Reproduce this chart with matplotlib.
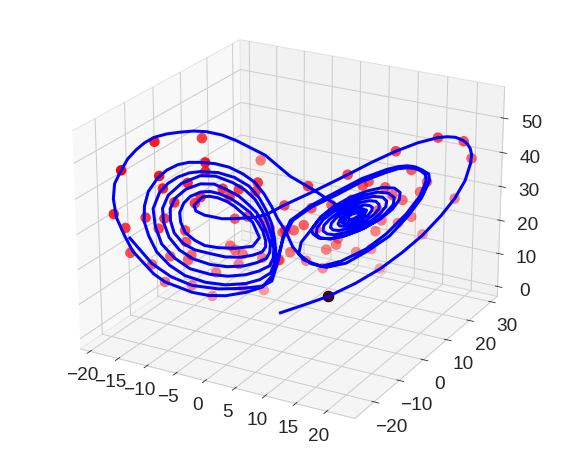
import matplotlib
matplotlib.use("Agg")
import matplotlib.pyplot as plt

# Values as (x, z). The view gives two coordinates per point; y is estimated from x.
start_arc = [(0.2,-1.0),(3.1,1.0),(6.0,3.1),(9.3,6.6),(12.3,10.6),(14.9,15.1),(17.3,19.9),(19.5,25.5),(21.1,30.4),(22.3,35.6),(22.9,40.6),(23.0,43.2),(22.8,45.1),(22.4,46.6),(21.9,47.6),(21.0,48.6),(20.0,48.9),(18.9,48.8),(16.5,47.6),(13.9,45.5),(11.1,42.7),(8.2,39.4),(4.5,35.4),(0.6,31.4),(-1.6,28.7),(-3.4,27.4),(-5.8,27.4),(-7.3,27.6),(-9.4,29.0),(-10.4,30.4),(-10.6,32.1),(-9.6,34.4),(-8.8,34.5),(-7.8,33.9),(-6.7,32.6),(-5.8,31.0),(-3.7,26.0),(-2.8,21.4)]
left_ring_1 = [(-3.7,18.8),(-5.8,18.5),(-7.8,19.0),(-9.4,19.9),(-10.6,21.7),(-11.7,24.2),(-12.2,27.3),(-12.3,30.2),(-11.8,32.9),(-11.0,34.8),(-9.8,35.9),(-8.7,35.9),(-7.6,35.1),(-6.3,33.5),(-5.2,31.5),(-4.0,29.0),(-3.1,26.2),(-2.3,23.5),(-1.9,20.7),(-1.9,18.8)]
left_ring_2 = [(-2.4,17.2),(-3.7,16.1),(-5.2,15.7),(-7.0,16.1),(-8.8,17.4),(-10.6,18.8),(-12.0,21.0),(-13.0,24.3),(-13.4,28.0),(-13.4,31.5),(-12.8,34.5),(-11.5,37.0),(-9.8,38.3),(-8.2,38.0),(-6.7,36.1),(-5.3,34.0),(-4.2,31.4),(-3.2,28.9),(-2.4,26.1),(-1.7,23.0),(-1.2,19.7),(-1.3,17.2)]
left_ring_3 = [(-1.8,15.3),(-3.2,13.8),(-4.8,13.0),(-6.8,13.1),(-8.8,14.1),(-10.8,16.1),(-12.4,19.0),(-13.6,23.0),(-14.2,27.5),(-14.3,31.7),(-13.6,35.5),(-12.0,38.8),(-9.8,40.7),(-8.0,40.3),(-6.0,38.1),(-4.6,35.8),(-3.4,32.8),(-2.4,29.6),(-1.6,26.0),(-1.0,22.0),(-0.7,18.2),(-0.8,15.6)]
left_ring_4 = [(-1.3,13.2),(-2.9,11.3),(-4.6,10.3),(-6.7,10.2),(-8.8,11.1),(-11.2,13.2),(-13.0,16.7),(-14.5,21.2),(-15.2,26.7),(-15.4,31.8),(-14.6,36.5),(-13.6,39.0),(-12.4,40.7),(-11.1,41.7),(-9.8,41.9),(-7.7,41.3),(-5.8,39.6),(-4.1,36.8),(-2.8,33.3),(-1.8,29.8),(-1.0,25.9),(-0.6,21.6),(-0.4,17.5),(-0.6,14.0)]
left_ring_5 = [(-1.2,11.0),(-2.8,8.7),(-4.6,7.6),(-7.0,7.6),(-9.4,8.8),(-11.8,11.2),(-13.6,14.6),(-15.1,18.9),(-16.0,23.9),(-16.5,28.4),(-16.4,32.8),(-15.9,37.0),(-14.8,40.7),(-13.7,42.9),(-12.4,44.3),(-11.1,44.8),(-9.8,44.6),(-8.1,44.0),(-6.4,42.7),(-4.8,40.5),(-3.4,37.8),(-2.1,34.6),(-1.0,31.0),(-0.1,27.4),(0.8,23.9),(1.7,18.8),(3.0,14.7),(5.1,12.4)]
right_lap_1 = [(7.5,13.6),(10.5,16.8),(12.9,21.0),(15.3,26.7),(16.9,31.8),(17.6,36.2),(17.5,38.1),(16.9,39.3),(16.2,40.1),(15.3,40.4),(14.2,40.3),(12.9,39.5),(9.9,37.1),(6.9,33.6),(3.9,30.4),(1.7,26.8),(0.6,21.9),(-0.1,16.0),(-1.0,10.1),(-2.4,6.5),(-4.6,4.9),(-7.0,4.3),(-9.0,4.7),(-11.0,6.0),(-14.2,9.7),(-15.5,12.3),(-16.6,15.6),(-17.9,19.5),(-18.8,24.2),(-19.7,29.8),(-20.0,35.4),(-19.8,39.8),(-19.0,43.6),(-18.2,46.8),(-17.2,49.3),(-16.2,51.2),(-15.1,52.6),(-13.6,53.4),(-12.0,53.7),(-10.5,53.8),(-9.0,53.4),(-7.2,52.2),(-5.5,50.3),(-1.9,46.0),(1.4,39.9),(4.2,35.4),(6.9,30.6),(8.1,27.8)]
spiral_inner = [(8.4,26.2),(8.6,26.0),(9.0,26.2),(9.5,26.9),(9.7,27.6),(9.4,27.9),(8.8,27.6),(8.1,26.7),
 (7.9,25.8),(8.3,25.4),(9.1,25.8),(9.8,26.9),(10.1,28.0),(9.6,28.5),(8.7,28.0),(7.8,26.7),
 (7.5,25.3),(8.0,24.8),(9.2,25.4),(10.2,27.0),(10.5,28.5),(9.9,29.1),(8.6,28.4),(7.4,26.6)]
spiral_mid = [(7.1,24.9),(7.3,24.3),(7.8,24.1),(8.4,24.3),(9.2,25.0),(10.0,25.9),(10.7,27.0),(11.1,28.2),(11.2,29.2),(10.9,29.8),(10.3,30.1),(9.5,29.8),(8.5,29.0),(7.5,27.9),(6.8,26.6),(6.3,25.2),
 (6.2,24.0),(6.5,23.2),(7.2,22.9),(8.2,23.3),(9.4,24.2),(10.5,25.5),(11.4,27.1),(12.0,28.7),(12.0,30.0),(11.6,31.0),(10.8,31.3),(9.7,30.9),(8.3,29.8),(7.1,28.3),(6.1,26.5),(5.4,24.7)]
spiral_outer = [(5.3,23.1),(5.8,22.1),(6.7,21.7),(8.0,22.2),(9.5,23.4),(11.0,25.1),(12.1,27.2),(12.8,29.2),(12.9,30.9),(12.4,32.1),(11.3,32.5),(9.9,32.0),(8.2,30.6),(6.6,28.7),(5.3,26.4),(4.6,24.1),
 (4.5,22.2),(5.0,21.0),(6.2,20.5),(7.8,21.1),(9.7,22.6),(11.4,24.7),(12.8,27.2),(13.7,29.7),(13.8,31.8),(13.1,33.2),(11.8,33.7),(10.1,33.0),(8.1,31.4),(6.2,29.1),(4.7,26.3),(3.9,23.7),
 (4.1,22.4),(4.8,21.0),(6.2,20.6),(8.1,21.4),(10.2,23.1),(12.1,25.5),(13.6,28.3),(14.4,31.0),(14.5,33.2),(13.8,34.6),(12.4,35.0),(10.5,34.2),(8.4,32.5),(6.5,30.1),(5.0,27.3),(4.2,24.6)]
tail_arc = [(2.7,20.1),(2.4,16.6),(3.9,13.4),(5.7,12.0),(8.1,12.9),(10.7,16.2),(13.3,20.3),(15.5,26.0),(17.1,31.2),(18.0,36.1),(17.9,38.2),(17.1,39.5),(16.3,40.5),(15.3,41.0),(14.2,40.9),(12.9,40.3),(9.9,38.0),(6.9,34.5),(3.9,31.0),(1.4,26.8),(0.5,21.9),(0.0,15.4),(-1.0,8.6),(-2.4,6.8),(-4.9,6.2),(-7.8,6.5),(-11.0,8.1),(-13.5,11.2),(-15.7,15.5),(-18.2,23.5)]

dots_x = [6.0,-16.4,-11.5,-5.2,-19.0,-20.0,-18.7,-18.2,-15.7,-14.2,-11.0,-8.6,-4.9,-2.2,-9.2,-9.2,-14.6,-14.2,-11.3,-9.8,-10.5,-12.9,-16.3,-14.1,-14.8,-11.7,-11.6,-11.0,-13.5,-11.4,-8.1,-5.4,-4.9,-6.4,-5.8,-2.4,-0.7,0.0,-5.8,-3.0,-3.3,-5.3,-7.2,-6.4,-4.3,-2.2,-1.3,0.5,0.7,3.9,3.5,8.2,13.9,18.9,22.0,23.0,21.1,17.3,12.2,15.8,17.7,16.9,10.7,10.0,12.7,13.6,14.8,15.9,14.3,12.3,11.6,11.1,9.3,7.1,5.7,6.9,3.3,5.3,1.4,0.1,0.8,1.8,3.0,4.5,6.3,8.7,11.9]
dots_y = [6.0,-12.4,-5.5,2.8,-19.0,-20.0,-18.7,-18.2,-15.7,-14.2,-11.0,-8.6,-4.9,-2.2,-9.2,-9.2,-14.6,-14.2,-11.3,-9.8,-10.5,-12.9,-16.3,-14.1,-14.8,-11.7,-11.6,-11.0,-13.5,-11.4,-8.1,-5.4,-4.9,-6.4,-5.8,-2.4,-0.7,0.0,-5.8,-3.0,-3.3,-5.3,-7.2,-6.4,-4.3,-2.2,-1.3,0.5,0.7,3.9,3.5,8.2,13.9,18.9,22.0,23.0,21.1,17.3,12.2,15.8,17.7,16.9,10.7,10.0,12.7,13.6,14.8,15.9,14.3,12.3,11.6,11.1,9.3,7.1,5.7,6.9,3.3,5.3,1.4,0.1,0.8,1.8,3.0,4.5,6.3,8.7,11.9]
dots_z = [3.1,49.6,49.0,40.6,43.6,30.9,26.6,19.1,15.2,9.7,8.1,4.5,6.5,5.6,44.5,41.8,41.3,37.6,38.8,34.4,32.7,33.3,29.3,28.7,25.8,24.8,21.3,17.3,17.3,15.9,11.6,13.7,16.6,19.4,17.9,15.4,13.7,15.1,27.4,37.8,35.1,36.0,36.5,34.0,27.8,26.7,24.5,23.4,31.4,30.1,36.7,39.4,45.5,48.8,47.3,42.1,30.4,20.2,10.6,39.7,35.9,33.0,37.0,35.9,35.0,32.5,30.9,25.7,24.1,25.2,22.0,16.7,16.1,20.5,17.4,18.7,14.4,11.8,17.3,15.1,23.9,23.8,25.2,23.8,30.7,31.9,28.3]

first_x = [6.0]
first_y = [6.0]
first_z = [3.1]

x_ticks = [-20,-15,-10,-5,0,5,10,15,20]
y_ticks = [-20,-10,0,10,20,30]
z_ticks = [0,10,20,30,40,50]


def calibrated_y(x, y):
    """Correct the y estimate, which the view cannot fix, against the rendered picture."""
    return y + min(2.0, max(0.0, -0.6 * x))


def calibrated_z(z):
    """Correct the reading of z against the rendered picture."""
    return z + 1.7 - 0.03 * z


path = (start_arc + left_ring_1 + left_ring_2 + left_ring_3 + left_ring_4 + left_ring_5
        + right_lap_1 + spiral_inner + spiral_mid + spiral_outer + tail_arc)
line_x = [p[0] for p in path]
line_y = [calibrated_y(p[0], p[0]) for p in path]
line_z = [calibrated_z(p[1]) for p in path]
dot_ys = [calibrated_y(a, b) for a, b in zip(dots_x, dots_y)]
dot_zs = [calibrated_z(c) for c in dots_z]
first_zs = [calibrated_z(c) for c in first_z]

plt.rcParams['font.family'] = ['Liberation Sans', 'DejaVu Sans']
fig = plt.figure(figsize=(572/72, 449/72), dpi=72)
ax = fig.add_axes([0.003, 0.003, 1.0, 1.0], projection='3d')
ax.computed_zorder = False
ax.view_init(elev=22.5, azim=-60.8)
ax._dist = 7.5
ax.set_box_aspect((1.0, 1.03, 0.75), zoom=0.81)

ax.scatter(first_x, first_y, first_zs, color='black', s=110, depthshade=False, zorder=1)
ax.scatter(dots_x, dot_ys, dot_zs, color='red', s=110, linewidths=0, zorder=2)
ax.plot(line_x, line_y, line_z, color='blue', lw=3, zorder=3, solid_joinstyle='round')

ax.set_xlim(-21.7, 24.5)
ax.set_ylim(-27.5, 33)
ax.set_zlim(-3, 59)
ax.set_xticks(x_ticks)
ax.set_yticks(y_ticks)
ax.set_zticks(z_ticks)
ax.tick_params(labelsize=19, labelcolor='#262626', colors='#262626')
ax.xaxis.set_tick_params(pad=3)
ax.yaxis.set_tick_params(pad=6)
ax.zaxis.set_tick_params(pad=8)
for a in (ax.xaxis, ax.yaxis, ax.zaxis):
    a._axinfo['grid'].update(color='#cccccc', linewidth=1)
    a.line.set_color('#cccccc')
    a.pane.set_edgecolor('#cccccc')
ax.grid(True)
fig.savefig('out.png', dpi=72)
